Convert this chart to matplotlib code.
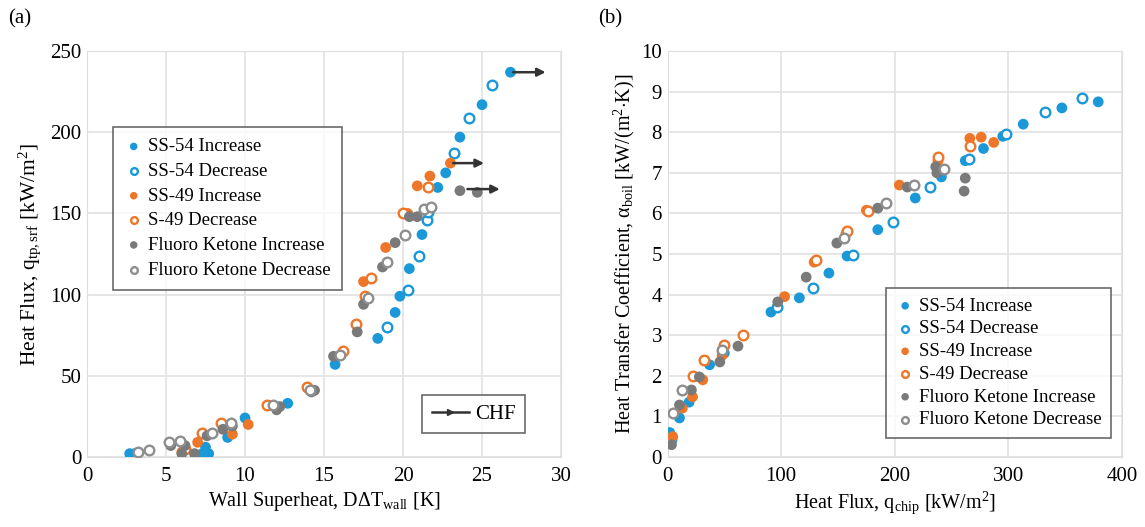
import numpy as np, matplotlib
matplotlib.use('Agg')
import matplotlib.pyplot as plt
from matplotlib.lines import Line2D

plt.rcParams.update({'font.family': 'Liberation Serif', 'font.size': 13,
                     'mathtext.fontset': 'custom', 'mathtext.rm': 'Liberation Serif',
                     'mathtext.it': 'Liberation Serif:italic', 'mathtext.bf': 'Liberation Serif:bold'})

BLUE = '#1b98d8'; ORANGE = '#ee7628'; GRAY = '#7a7a7a'; GRAYO = '#8e8e8e'; DARK = '#333333'

# ---- (a) wall superheat [K] vs heat flux [kW/m2] ----
a_ss54_inc_x = [2.7, 3.0, 7.3, 7.5, 7.7, 8.9, 10.0, 12.7, 15.7, 18.4, 19.5, 19.8, 20.4, 21.2, 22.2, 22.7, 23.6, 25.0, 26.8]
a_ss54_inc_y = [2, 2, 2, 6, 2, 12, 24, 33, 57, 73, 89, 99, 116, 137, 166, 175, 197, 217, 237]
a_ss54_dec_x = [19.0, 20.3, 21.0, 21.5, 21.6, 23.2, 24.2, 25.6]
a_ss54_dec_y = [80, 103, 124, 146, 151, 187, 209, 229]
a_ss49_inc_x = [6.0, 7.0, 9.2, 10.2, 17.5, 18.9, 20.3, 20.9, 21.7, 23.0]
a_ss49_inc_y = [3, 9, 14, 20, 108, 129, 150, 167, 173, 181]
a_s49_dec_x = [6.2, 7.3, 8.5, 11.4, 13.9, 16.2, 17.0, 17.6, 18.0, 20.0, 21.6]
a_s49_dec_y = [5, 15, 21, 32, 43, 65, 82, 99, 110, 150, 166]
a_fk_inc_x = [5.3, 6.0, 6.2, 6.8, 7.6, 8.6, 9.2, 12.0, 12.2, 14.2, 14.4, 15.6, 17.1, 17.5, 18.7, 19.5, 20.4, 20.9, 23.6, 24.7]
a_fk_inc_y = [7, 2, 7, 2, 13, 17, 19, 29, 31, 40, 41, 62, 77, 94, 117, 132, 148, 148, 164, 163]
a_fk_dec_x = [3.2, 3.9, 5.2, 5.9, 7.9, 9.1, 11.8, 14.1, 16.0, 17.8, 19.0, 20.1, 21.3, 21.8]
a_fk_dec_y = [3, 4, 9, 9.5, 15, 21, 32, 41, 63, 98, 120, 137, 153, 154]
# CHF arrows: start x, end x, y
chf_x0 = [26.8, 23.0, 23.9]
chf_x1 = [29.2, 25.3, 26.3]
chf_y = [237, 181, 165]

# ---- (b) heat flux [kW/m2] vs heat transfer coefficient ----
b_ss54_inc_x = [2, 10.5, 19, 37, 50, 91, 116, 142, 158, 185, 218, 241, 262, 278, 295, 313, 347, 379]
b_ss54_inc_y = [0.6, 0.96, 1.35, 2.27, 2.56, 3.57, 3.92, 4.53, 4.95, 5.6, 6.38, 6.9, 7.3, 7.6, 7.9, 8.2, 8.6, 8.75]
b_ss54_dec_x = [3, 96, 128, 163, 198, 231, 265, 298, 332, 365]
b_ss54_dec_y = [0.45, 3.7, 4.16, 4.98, 5.8, 6.65, 7.35, 7.95, 8.5, 8.85]
b_ss49_inc_x = [4.5, 13, 22, 31, 48, 103, 129, 157, 175, 204, 238, 266, 276, 287]
b_ss49_inc_y = [0.5, 1.2, 1.48, 1.9, 2.5, 3.95, 4.8, 5.5, 6.08, 6.7, 7.3, 7.85, 7.88, 7.75]
b_s49_dec_x = [22, 32, 50, 66, 131, 158, 176, 238, 266]
b_s49_dec_y = [2.0, 2.38, 2.75, 3.0, 4.85, 5.56, 6.06, 7.4, 7.65]
b_fk_inc_x = [3.5, 10.5, 21, 28, 46, 62, 97, 122, 149, 185, 211, 236, 237, 262, 261]
b_fk_inc_y = [0.3, 1.28, 1.65, 1.97, 2.34, 2.73, 3.82, 4.43, 5.27, 6.13, 6.65, 7.15, 7.0, 6.87, 6.55]
b_fk_dec_x = [4.5, 13, 48, 155, 192, 217, 243]
b_fk_dec_y = [1.08, 1.65, 2.63, 5.4, 6.25, 6.7, 7.1]

labels = ['SS-54 Increase', 'SS-54 Decrease', 'SS-49 Increase', 'S-49 Decrease',
          'Fluoro Ketone Increase', 'Fluoro Ketone Decrease']
styles = [(BLUE, True), (BLUE, False), (ORANGE, True), (ORANGE, False), (GRAY, True), (GRAYO, False)]

fig = plt.figure(figsize=(11.45, 5.27), dpi=100)
axa = fig.add_axes([0.076, 0.133, 0.414, 0.770])
axb = fig.add_axes([0.583, 0.133, 0.397, 0.770])

def draw(ax, series):
    for (x, y), (c, filled), lab in zip(series, styles, labels):
        if filled:
            ax.scatter(x, y, s=60, color=c, edgecolors='none', label=lab, zorder=3)
        else:
            ax.scatter(x, y, s=48, facecolors='white', edgecolors=c, linewidths=1.7, label=lab, zorder=3)
    ax.grid(True, color='#e2e2e2', lw=1.2)
    ax.set_axisbelow(True)
    ax.tick_params(axis='x', length=0, labelsize=15, pad=7)
    ax.tick_params(axis='y', length=0, labelsize=15, pad=4)
    for s in ax.spines.values():
        s.set_color('#dddddd')

def legend(ax, anchor, loc, pad, spacing):
    lg = ax.legend(loc=loc, bbox_to_anchor=anchor, borderaxespad=0, fontsize=13.5,
                   frameon=True, fancybox=False, edgecolor='#444444', handletextpad=0.25,
                   borderpad=pad, labelspacing=spacing, handlelength=1.0, markerscale=0.7)
    lg.get_frame().set_linewidth(1.2)
    return lg

draw(axa, [(a_ss54_inc_x, a_ss54_inc_y), (a_ss54_dec_x, a_ss54_dec_y), (a_ss49_inc_x, a_ss49_inc_y),
           (a_s49_dec_x, a_s49_dec_y), (a_fk_inc_x, a_fk_inc_y), (a_fk_dec_x, a_fk_dec_y)])
for x0, x1, y in zip(chf_x0, chf_x1, chf_y):
    axa.annotate('', xy=(x1, y), xytext=(x0, y),
                 arrowprops=dict(arrowstyle='-|>', color=DARK, lw=1.8, mutation_scale=12), zorder=4)
axa.set_xlim(0, 30); axa.set_ylim(0, 250)
axa.set_xticks(range(0, 31, 5)); axa.set_yticks(range(0, 251, 50))
axa.set_xlabel('Wall Superheat, D$\\Delta$T$_{\\mathrm{wall}}$ [K]', fontsize=14.5, labelpad=3)
axa.set_ylabel('Heat Flux, q$_{\\mathrm{tp,srf}}$ [kW/m$^2$]', fontsize=15.5, labelpad=5)
leg = legend(axa, (0.055, 0.813), 'upper left', 0.6, 0.4)
chf = axa.legend([Line2D([0], [0], color=DARK, lw=1.8, marker='>', markevery=[1], markersize=5)],
                 ['CHF'], loc='lower right', bbox_to_anchor=(0.925, 0.058), borderaxespad=0,
                 fontsize=15, fancybox=False, edgecolor='#444444', handlelength=1.8,
                 handletextpad=0.3, borderpad=0.45)
chf.get_frame().set_linewidth(1.2)
axa.add_artist(leg)

draw(axb, [(b_ss54_inc_x, b_ss54_inc_y), (b_ss54_dec_x, b_ss54_dec_y), (b_ss49_inc_x, b_ss49_inc_y),
           (b_s49_dec_x, b_s49_dec_y), (b_fk_inc_x, b_fk_inc_y), (b_fk_dec_x, b_fk_dec_y)])
axb.set_xlim(0, 400); axb.set_ylim(0, 10)
axb.set_xticks(range(0, 401, 100)); axb.set_yticks(range(0, 11))
axb.set_xlabel('Heat Flux, q$_{\\mathrm{chip}}$ [kW/m$^2$]', fontsize=14.5, labelpad=3)
axb.set_ylabel('Heat Transfer Coefficient, α$_{\\mathrm{boil}}$ [kW/(m$^2$$\\cdot$K)]', fontsize=14.5, labelpad=3)
legend(axb, (0.976, 0.047), 'lower right', 0.5, 0.3)

fig.text(0.007, 0.955, '(a)', fontsize=15)
fig.text(0.522, 0.955, '(b)', fontsize=15)

fig.savefig('out.png', dpi=100)
